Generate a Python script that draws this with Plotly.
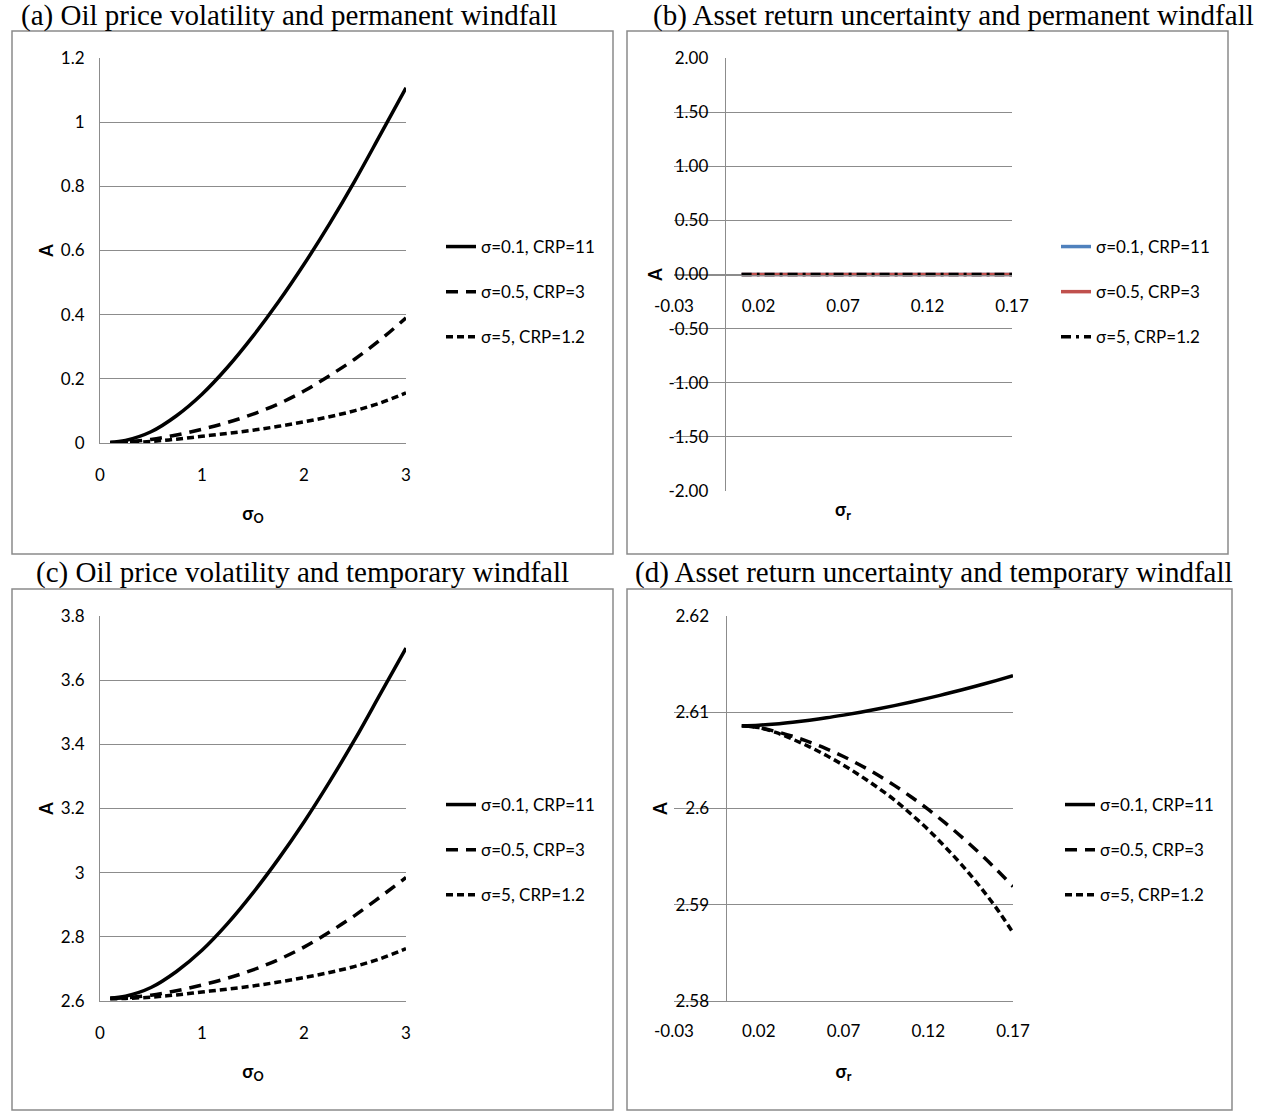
import plotly.graph_objects as go

# ---------------- data ----------------
series_names = ["σ=0.1, CRP=11", "σ=0.5, CRP=3", "σ=5, CRP=1.2"]

sigma_o = [0.1, 0.25, 0.5, 0.75, 1.0, 1.25, 1.5, 1.75, 2.0, 2.25, 2.5, 2.75, 3.0]
# (a) permanent windfall vs oil price volatility
a_crp11 = [0.002, 0.008, 0.035, 0.085, 0.152, 0.236, 0.333, 0.440, 0.557, 0.683, 0.818, 0.962, 1.107]
a_crp3 = [0.001, 0.003, 0.011, 0.025, 0.043, 0.064, 0.090, 0.122, 0.162, 0.210, 0.262, 0.322, 0.390]
a_crp12 = [0.000, 0.001, 0.005, 0.012, 0.021, 0.030, 0.040, 0.052, 0.066, 0.082, 0.101, 0.125, 0.156]
# (c) temporary windfall vs oil price volatility
c_crp11 = [2.609, 2.615, 2.642, 2.692, 2.758, 2.841, 2.937, 3.043, 3.158, 3.283, 3.416, 3.558, 3.700]
c_crp3 = [2.608, 2.610, 2.618, 2.632, 2.650, 2.671, 2.697, 2.729, 2.768, 2.815, 2.867, 2.925, 2.985]
c_crp12 = [2.607, 2.608, 2.612, 2.619, 2.628, 2.637, 2.647, 2.659, 2.673, 2.689, 2.708, 2.732, 2.763]

sigma_r = [0.01, 0.02, 0.03, 0.04, 0.05, 0.06, 0.07, 0.08, 0.09,
           0.10, 0.11, 0.12, 0.13, 0.14, 0.15, 0.16, 0.17]
# (b) permanent windfall vs asset return uncertainty
b_crp11 = [0.0, 0.0, 0.0, 0.0, 0.0, 0.0, 0.0, 0.0, 0.0, 0.0, 0.0, 0.0, 0.0, 0.0, 0.0, 0.0, 0.0]
b_crp3 = [0.0, 0.0, 0.0, 0.0, 0.0, 0.0, 0.0, 0.0, 0.0, 0.0, 0.0, 0.0, 0.0, 0.0, 0.0, 0.0, 0.0]
b_crp12 = [0.0, 0.0, 0.0, 0.0, 0.0, 0.0, 0.0, 0.0, 0.0, 0.0, 0.0, 0.0, 0.0, 0.0, 0.0, 0.0, 0.0]
# (d) temporary windfall vs asset return uncertainty
d_crp11 = [2.60860, 2.60866, 2.60879, 2.60897, 2.60918, 2.60942, 2.60970, 2.61000, 2.61033,
           2.61069, 2.61107, 2.61147, 2.61189, 2.61234, 2.61280, 2.61329, 2.61380]
d_crp3 = [2.6086, 2.6084, 2.6080, 2.6075, 2.6069, 2.6062, 2.6054, 2.6045, 2.6035,
          2.6024, 2.6012, 2.5999, 2.5985, 2.5970, 2.5954, 2.5937, 2.5919]
d_crp12 = [2.6086, 2.6084, 2.6079, 2.6072, 2.6064, 2.6055, 2.6045, 2.6034, 2.6022,
           2.6009, 2.5994, 2.5978, 2.5960, 2.5941, 2.5920, 2.5897, 2.5871]

# tick values / labels
a_yticks = [0, 0.2, 0.4, 0.6, 0.8, 1.0, 1.2]
a_yticklabels = ["0", "0.2", "0.4", "0.6", "0.8", "1", "1.2"]
c_yticks = [2.6, 2.8, 3.0, 3.2, 3.4, 3.6, 3.8]
c_yticklabels = ["2.6", "2.8", "3", "3.2", "3.4", "3.6", "3.8"]
o_xticks = [0, 1, 2, 3]
o_xticklabels = ["0", "1", "2", "3"]
b_yticks = [-2.0, -1.5, -1.0, -0.5, 0.0, 0.5, 1.0, 1.5, 2.0]
b_yticklabels = ["-2.00", "-1.50", "-1.00", "-0.50", "0.00", "0.50", "1.00", "1.50", "2.00"]
d_yticks = [2.58, 2.59, 2.60, 2.61, 2.62]
d_yticklabels = ["2.58", "2.59", "2.6", "2.61", "2.62"]
r_xticks = [-0.03, 0.02, 0.07, 0.12, 0.17]
r_xticklabels = ["-0.03", "0.02", "0.07", "0.12", "0.17"]

panel_titles = ["(a) Oil price volatility and permanent windfall",
                "(b) Asset return uncertainty and permanent windfall",
                "(c) Oil price volatility and temporary windfall",
                "(d) Asset return uncertainty and temporary windfall"]

# ---------------- styling helpers ----------------
W, H = 1272, 1112


def px(x):
    return x / W


def py(y):
    return 1 - y / H


SANS = "Lato, Roboto, DejaVu Sans Condensed, sans-serif"
SERIF = "Liberation Serif, Times New Roman, serif"
TICKFONT = dict(family=SANS, size=17, color="#000000")
GRID = "#8c8c8c"
LW = 3.5
black_styles = [dict(color="#000000", width=LW, dash="solid"),
                dict(color="#000000", width=LW, dash="12px,8px"),
                dict(color="#000000", width=LW, dash="7px,4px")]
b_styles = [dict(color="#4F81BD", width=LW, dash="solid"),
            dict(color="#C0504D", width=LW, dash="solid"),
            dict(color="#000000", width=LW, dash="10px,5px,3px,5px")]

fig = go.Figure()


def add_panel(xs, ys_list, styles, xa, ya, leg):
    for i, (ys, st) in enumerate(zip(ys_list, styles)):
        fig.add_trace(go.Scatter(
            x=xs, y=ys, mode="lines", name=series_names[i],
            line=dict(**st, shape="spline", smoothing=1.0),
            xaxis=xa, yaxis=ya, legend=leg, legendgroup=f"{leg}_{i}", showlegend=True,
        ))


add_panel(sigma_o, [a_crp11, a_crp3, a_crp12], black_styles, "x", "y", "legend")
add_panel(sigma_r, [b_crp11, b_crp3, b_crp12], b_styles, "x2", "y2", "legend2")
add_panel(sigma_o, [c_crp11, c_crp3, c_crp12], black_styles, "x3", "y3", "legend3")
add_panel(sigma_r, [d_crp11, d_crp3, d_crp12], black_styles, "x4", "y4", "legend4")

common_axis = dict(showline=True, linecolor=GRID, linewidth=1, zeroline=False, automargin=False,
                   ticks="outside", tickcolor="rgba(0,0,0,0)", tickfont=TICKFONT)
title_font = dict(family=SANS, size=18, color="#000000")

xo_title = "<b>σ<sub>O</sub></b>"
xr_title = "<b>σ<sub>r</sub></b>"

layout_axes = dict(
    xaxis=dict(domain=[px(100), px(406)], anchor="y", range=[0, 3], tickmode="array",
               tickvals=o_xticks, ticktext=o_xticklabels, showgrid=False, ticklen=17,
               title=dict(text=xo_title, font=title_font, standoff=22), **common_axis),
    yaxis=dict(domain=[py(443), py(58)], anchor="x", range=[0, 1.2], tickmode="array",
               tickvals=a_yticks, ticktext=a_yticklabels, showgrid=True, gridcolor=GRID,
               gridwidth=1, ticklen=11, title=dict(text="<b>A</b>", font=title_font, standoff=2),
               **common_axis),
    xaxis2=dict(domain=[px(674), px(1012)], anchor="free", position=py(274.5), range=[-0.03, 0.17],
                tickmode="array", tickvals=r_xticks, ticktext=r_xticklabels, showgrid=False, ticklen=16,
                title=dict(text=xr_title, font=title_font, standoff=188), **common_axis),
    yaxis2=dict(domain=[py(491), py(58)], anchor="free", position=px(724.7), range=[-2, 2],
                tickmode="array", tickvals=b_yticks, ticktext=b_yticklabels, showgrid=True,
                gridcolor=GRID, gridwidth=1, ticklen=13,
                title=dict(text="<b>A</b>", font=title_font, standoff=0), **common_axis),
    xaxis3=dict(domain=[px(100), px(406)], anchor="y3", range=[0, 3], tickmode="array",
                tickvals=o_xticks, ticktext=o_xticklabels, showgrid=False, ticklen=17,
                title=dict(text=xo_title, font=title_font, standoff=22), **common_axis),
    yaxis3=dict(domain=[py(1001), py(616)], anchor="x3", range=[2.6, 3.8], tickmode="array",
                tickvals=c_yticks, ticktext=c_yticklabels, showgrid=True, gridcolor=GRID,
                gridwidth=1, ticklen=11, title=dict(text="<b>A</b>", font=title_font, standoff=2),
                **common_axis),
    xaxis4=dict(domain=[px(674), px(1013)], anchor="y4", range=[-0.03, 0.17], tickmode="array",
                tickvals=r_xticks, ticktext=r_xticklabels, showgrid=False, ticklen=15,
                title=dict(text=xr_title, font=title_font, standoff=24), **common_axis),
    yaxis4=dict(domain=[py(1001), py(616)], anchor="free", position=px(725.5), range=[2.58, 2.62],
                tickmode="array", tickvals=d_yticks, ticktext=d_yticklabels, showgrid=True,
                gridcolor=GRID, gridwidth=1, ticklen=13,
                title=dict(text="<b>A</b>", font=title_font, standoff=2), **common_axis),
)


def legend_at(x, ycenter):
    return dict(x=px(x), y=py(ycenter), xanchor="left", yanchor="middle",
                bgcolor="rgba(0,0,0,0)", borderwidth=0, font=dict(family=SANS, size=17, color="#000000"),
                tracegroupgap=20, traceorder="grouped", itemwidth=30)


shapes = []
for (x0, y0, x1, y1) in [(12, 31, 613, 554), (627, 31, 1228, 554), (12, 589, 613, 1110), (627, 589, 1232, 1110)]:
    shapes.append(dict(type="rect", xref="paper", yref="paper", x0=px(x0), x1=px(x1), y0=py(y1), y1=py(y0),
                       line=dict(color="#8a8a8a", width=1.5), layer="below"))

annotations = []
for text, (cx, cy) in zip(panel_titles, [(289, 15), (953, 15), (302, 572), (934, 572)]):
    annotations.append(dict(text=text, xref="paper", yref="paper", x=px(cx), y=py(cy),
                            xanchor="center", yanchor="middle", showarrow=False,
                            font=dict(family=SERIF, size=29, color="#000000")))

fig.update_layout(
    width=W, height=H, margin=dict(l=0, r=0, t=0, b=0, autoexpand=False),
    paper_bgcolor="white", plot_bgcolor="white",
    legend=legend_at(441, 292), legend2=legend_at(1056, 292),
    legend3=legend_at(441, 850), legend4=legend_at(1060, 850),
    shapes=shapes, annotations=annotations,
    **layout_axes,
)

fig.write_html("out.html")
